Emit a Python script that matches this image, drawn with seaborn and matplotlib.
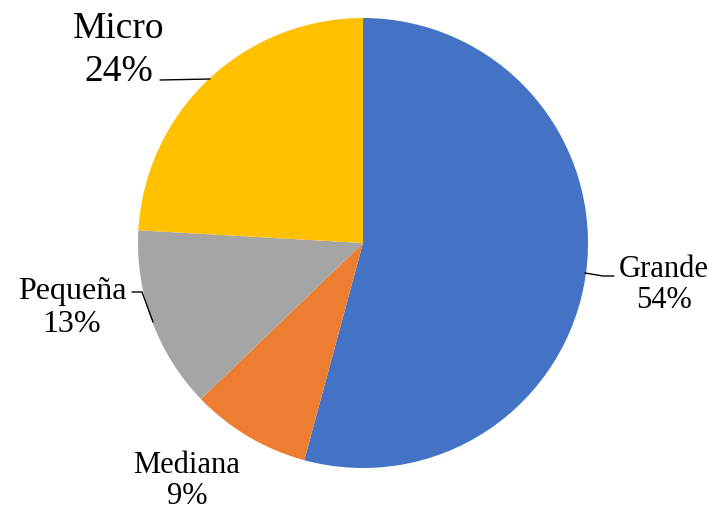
import matplotlib
matplotlib.use("Agg")
import matplotlib.pyplot as plt
import seaborn as sns

# datos del grafico
categorias = ["Grande", "Mediana", "Pequeña", "Micro"]
valores = [54.2, 8.6, 13.1, 24.1]
colores = ["#4472C4", "#ED7D31", "#A5A5A5", "#FFC000"]

sns.set_theme(style="white")
plt.rcParams["font.family"] = ["Liberation Serif", "DejaVu Serif"]

W, H = 715, 511
fig = plt.figure(figsize=(W / 100, H / 100), dpi=100)
ax = fig.add_axes([0, 0, 1, 1])
ax.set_xlim(0, W)
ax.set_ylim(0, H)
ax.set_aspect("equal")
ax.axis("off")

# pastel desde las 12, sentido horario
ax.pie(valores, colors=colores, startangle=90, counterclock=False,
       center=(363, H - 243), radius=225, wedgeprops=dict(linewidth=0))
ax.set_xlim(0, W)
ax.set_ylim(0, H)

# etiquetas (posicion en pixeles, tamaño, interlineado)
etiquetas = {
    "Grande": ((664, 285), 22, 1.12),
    "Mediana": ((187, 481), 22, 1.12),
    "Pequeña": ((72, 308), 23, 1.2),
    "Micro": ((119, 50), 27, 1.32),
}
for cat, v in zip(categorias, valores):
    (px, py), fs, ls = etiquetas[cat]
    ax.text(px, H - py, f"{cat}\n{v:.0f}%", ha="center", va="center",
            fontsize=fs, color="black", linespacing=ls)

# lineas guia
lineas = [
    [(160, 80), (210, 79)],
    [(585, 273), (603, 276), (614, 276)],
    [(132, 292), (142, 292), (153, 322)],
]
for ln in lineas:
    xs = [p[0] for p in ln]
    ys = [H - p[1] for p in ln]
    ax.plot(xs, ys, color="black", lw=1)

fig.savefig("out.png", dpi=100)
